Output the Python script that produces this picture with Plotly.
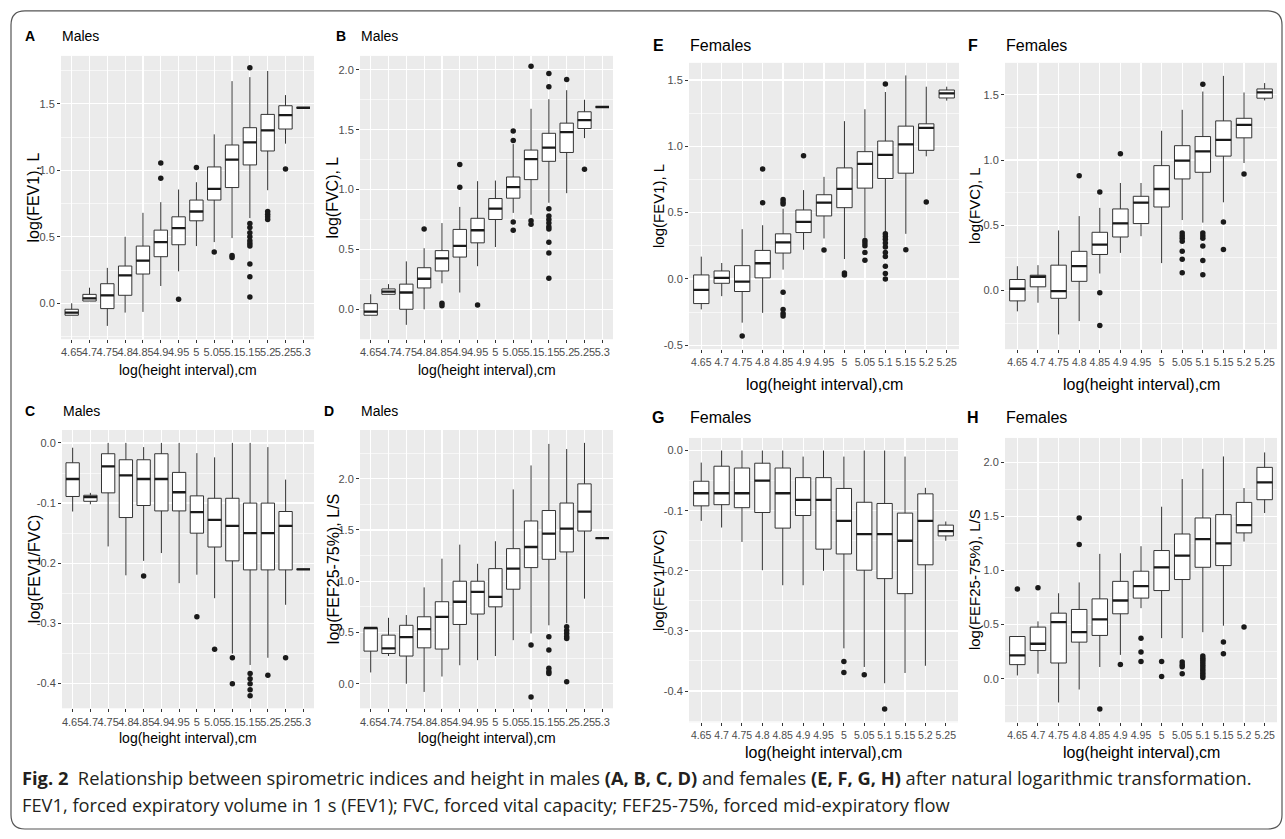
import plotly.graph_objects as go

W, H = 1285, 839

# ---------------- categories ----------------
MALE_CATS = ["4.65", "4.7", "4.75", "4.8", "4.85", "4.9", "4.95", "5", "5.05", "5.1", "5.15", "5.2", "5.25", "5.3"]
FEMALE_CATS = ["4.65", "4.7", "4.75", "4.8", "4.85", "4.9", "4.95", "5", "5.05", "5.1", "5.15", "5.2", "5.25"]

# ---------------- Panel A: males, log(FEV1) ----------------
A_LO = [-0.09, 0.017, -0.17, -0.07, -0.065, 0.13, 0.24, 0.43, 0.46, 0.49, 0.64, 0.85, 1.20, 1.47]
A_Q1 = [-0.09, 0.017, -0.04, 0.06, 0.22, 0.35, 0.44, 0.62, 0.776, 0.87, 1.04, 1.145, 1.31, 1.47]
A_MED = [-0.07, 0.037, 0.06, 0.21, 0.32, 0.46, 0.565, 0.69, 0.86, 1.08, 1.21, 1.30, 1.415, 1.47]
A_Q3 = [-0.045, 0.067, 0.147, 0.28, 0.43, 0.55, 0.65, 0.776, 1.025, 1.19, 1.32, 1.42, 1.485, 1.47]
A_HI = [0.0, 0.117, 0.266, 0.50, 0.68, 0.76, 0.855, 0.91, 1.27, 1.67, 1.70, 1.746, 1.565, 1.47]
A_OUT_CAT = ["4.9", "4.9", "4.95", "5", "5.05", "5.1", "5.1",
             "5.15", "5.15", "5.15", "5.15", "5.15", "5.15", "5.15", "5.15", "5.15", "5.15", "5.15",
             "5.2", "5.2", "5.2", "5.2", "5.25"]
A_OUT_VAL = [1.055, 0.94, 0.03, 1.02, 0.385, 0.36, 0.345,
             1.77, 0.60, 0.57, 0.53, 0.50, 0.47, 0.45, 0.43, 0.296, 0.2, 0.047,
             0.69, 0.67, 0.65, 0.63, 1.01]

# ---------------- Panel B: males, log(FVC) ----------------
B_LO = [-0.05, 0.125, -0.13, 0.0, 0.217, 0.14, 0.36, 0.52, 0.805, 0.79, 0.89, 0.97, 1.43, 1.69]
B_Q1 = [-0.05, 0.125, 0.0, 0.178, 0.32, 0.436, 0.555, 0.75, 0.928, 1.083, 1.236, 1.31, 1.51, 1.69]
B_MED = [-0.02, 0.147, 0.14, 0.255, 0.425, 0.53, 0.66, 0.84, 1.02, 1.255, 1.35, 1.48, 1.58, 1.69]
B_Q3 = [0.047, 0.17, 0.21, 0.347, 0.49, 0.667, 0.76, 0.925, 1.105, 1.33, 1.47, 1.555, 1.65, 1.69]
B_HI = [0.125, 0.21, 0.40, 0.51, 0.72, 0.855, 1.07, 1.075, 1.38, 1.675, 1.755, 1.83, 1.75, 1.69]
B_OUT_CAT = ["4.8", "4.85", "4.85", "4.9", "4.9", "4.95",
             "5.05", "5.05", "5.05", "5.05", "5.1", "5.1", "5.1",
             "5.15", "5.15", "5.15", "5.15", "5.15", "5.15", "5.15", "5.15", "5.15", "5.15", "5.15",
             "5.2", "5.25"]
B_OUT_VAL = [0.67, 0.05, 0.03, 1.21, 1.02, 0.035,
             1.49, 1.41, 0.73, 0.66, 2.03, 0.74, 0.71,
             1.97, 1.86, 0.84, 0.78, 0.75, 0.72, 0.69, 0.67, 0.56, 0.47, 0.26,
             1.92, 1.17]

# ---------------- Panel C: males, log(FEV1/FVC) ----------------
C_LO = [-0.114, -0.102, -0.172, -0.22, -0.196, -0.183, -0.233, -0.219, -0.258, -0.35, -0.369, -0.357, -0.269, -0.21]
C_Q1 = [-0.089, -0.097, -0.083, -0.124, -0.104, -0.113, -0.113, -0.15, -0.173, -0.196, -0.211, -0.211, -0.211, -0.21]
C_MED = [-0.06, -0.09, -0.039, -0.054, -0.06, -0.06, -0.082, -0.115, -0.128, -0.138, -0.15, -0.15, -0.138, -0.21]
C_Q3 = [-0.033, -0.087, -0.018, -0.028, -0.028, -0.018, -0.049, -0.088, -0.092, -0.092, -0.1, -0.1, -0.114, -0.21]
C_HI = [-0.008, -0.083, 0.0, 0.0, -0.007, 0.0, 0.0, -0.017, -0.024, 0.0, 0.0, -0.007, -0.061, -0.21]
C_OUT_CAT = ["4.85", "5", "5.05", "5.1", "5.1", "5.15", "5.15", "5.15", "5.15", "5.15", "5.2", "5.25"]
C_OUT_VAL = [-0.221, -0.289, -0.343, -0.357, -0.40, -0.383, -0.392, -0.40, -0.41, -0.42, -0.386, -0.357]

# ---------------- Panel D: males, log(FEF25-75%) ----------------
D_LO = [0.11, 0.27, 0.0, -0.08, 0.07, 0.18, 0.23, 0.27, 0.425, 0.49, 0.57, 0.59, 0.83, 1.42]
D_Q1 = [0.318, 0.295, 0.27, 0.35, 0.338, 0.578, 0.68, 0.75, 0.922, 1.133, 1.214, 1.286, 1.49, 1.42]
D_MED = [0.545, 0.344, 0.455, 0.532, 0.653, 0.80, 0.896, 0.847, 1.123, 1.334, 1.464, 1.513, 1.68, 1.42]
D_Q3 = [0.545, 0.474, 0.57, 0.653, 0.80, 1.0, 1.0, 1.123, 1.318, 1.588, 1.69, 1.763, 1.95, 1.42]
D_HI = [0.545, 0.643, 0.67, 0.94, 1.22, 1.357, 1.17, 1.39, 1.896, 2.13, 2.34, 2.29, 2.35, 1.42]
D_OUT_CAT = ["5.1", "5.1", "5.15", "5.15", "5.15", "5.15", "5.15",
             "5.2", "5.2", "5.2", "5.2", "5.2", "5.2"]
D_OUT_VAL = [0.377, -0.13, 0.458, 0.328, 0.15, 0.12, 0.10,
             0.555, 0.52, 0.49, 0.46, 0.44, 0.02]

# ---------------- Panel E: females, log(FEV1) ----------------
E_LO = [-0.23, -0.13, -0.33, -0.256, 0.07, 0.22, 0.305, 0.15, 0.31, 0.35, 0.34, 0.925, 1.345]
E_Q1 = [-0.186, -0.033, -0.095, 0.008, 0.195, 0.35, 0.475, 0.5375, 0.685, 0.7575, 0.7975, 0.97, 1.365]
E_MED = [-0.083, 0.008, -0.02, 0.118, 0.275, 0.43, 0.575, 0.68, 0.8675, 0.935, 1.015, 1.14, 1.40]
E_Q3 = [0.03, 0.06, 0.1, 0.215, 0.34, 0.52, 0.635, 0.8375, 0.96, 1.04, 1.1525, 1.17, 1.425]
E_HI = [0.168, 0.12, 0.375, 0.405, 0.53, 0.67, 0.77, 1.19, 1.28, 1.41, 1.535, 1.45, 1.45]
E_OUT_CAT = ["4.75", "4.8", "4.8", "4.85", "4.85", "4.85", "4.85", "4.85", "4.85", "4.85",
             "4.9", "4.95", "5", "5",
             "5.05", "5.05", "5.05", "5.05", "5.05",
             "5.1", "5.1", "5.1", "5.1", "5.1", "5.1", "5.1", "5.1", "5.1", "5.1", "5.1",
             "5.15", "5.2"]
E_OUT_VAL = [-0.43, 0.83, 0.575, 0.60, 0.58, 0.565, -0.10, -0.23, -0.26, -0.28,
             0.93, 0.218, 0.045, 0.03,
             0.29, 0.27, 0.25, 0.20, 0.14,
             1.47, 0.34, 0.32, 0.30, 0.27, 0.24, 0.20, 0.17, 0.095, 0.04, 0.0,
             0.22, 0.58]

# ---------------- Panel F: females, log(FVC) ----------------
F_LO = [-0.16, -0.094, -0.337, -0.235, 0.13, 0.288, 0.416, 0.21, 0.54, 0.52, 0.676, 0.977, 1.457]
F_Q1 = [-0.08, 0.028, -0.06, 0.07, 0.276, 0.41, 0.513, 0.64, 0.855, 0.906, 1.03, 1.17, 1.474]
F_MED = [0.013, 0.105, -0.005, 0.186, 0.352, 0.515, 0.673, 0.778, 0.995, 1.066, 1.155, 1.27, 1.518]
F_Q3 = [0.084, 0.117, 0.194, 0.30, 0.446, 0.625, 0.722, 0.957, 1.11, 1.18, 1.30, 1.32, 1.545]
F_HI = [0.186, 0.194, 0.46, 0.57, 0.633, 0.824, 0.824, 1.224, 1.385, 1.525, 1.645, 1.518, 1.59]
F_OUT_CAT = ["4.8", "4.85", "4.85", "4.85", "4.9",
             "5.05", "5.05", "5.05", "5.05", "5.05", "5.05", "5.05",
             "5.1", "5.1", "5.1", "5.1", "5.1", "5.1", "5.1",
             "5.15", "5.15", "5.2"]
F_OUT_VAL = [0.88, 0.755, -0.018, -0.268, 1.048,
             0.44, 0.42, 0.40, 0.378, 0.30, 0.24, 0.135,
             1.58, 0.44, 0.42, 0.40, 0.34, 0.23, 0.12,
             0.525, 0.314, 0.893]

# ---------------- Panel G: females, log(FEV1/FVC) ----------------
G_LO = [-0.117, -0.128, -0.152, -0.199, -0.224, -0.224, -0.2, -0.329, -0.36, -0.387, -0.37, -0.358, -0.15]
G_Q1 = [-0.092, -0.09, -0.095, -0.103, -0.129, -0.108, -0.164, -0.172, -0.199, -0.213, -0.238, -0.19, -0.142]
G_MED = [-0.071, -0.071, -0.071, -0.05, -0.071, -0.082, -0.082, -0.117, -0.139, -0.139, -0.15, -0.117, -0.134]
G_Q3 = [-0.051, -0.026, -0.029, -0.021, -0.029, -0.045, -0.045, -0.063, -0.086, -0.088, -0.104, -0.072, -0.124]
G_HI = [-0.02, 0.0, 0.0, 0.0, 0.0, -0.01, 0.0, -0.01, 0.0, 0.0, -0.01, -0.062, -0.118]
G_OUT_CAT = ["5", "5", "5.05", "5.1"]
G_OUT_VAL = [-0.351, -0.369, -0.373, -0.43]

# ---------------- Panel H: females, log(FEF25-75%) ----------------
H_LO = [0.03, 0.046, -0.22, -0.1, 0.108, 0.22, 0.652, 0.375, 0.375, 0.43, 0.49, 1.268, 1.532]
H_Q1 = [0.13, 0.26, 0.145, 0.338, 0.40, 0.60, 0.745, 0.815, 0.917, 1.03, 1.046, 1.348, 1.655]
H_MED = [0.215, 0.323, 0.523, 0.43, 0.548, 0.723, 0.855, 1.03, 1.138, 1.29, 1.252, 1.42, 1.815]
H_Q3 = [0.39, 0.477, 0.606, 0.64, 0.738, 0.90, 0.994, 1.185, 1.338, 1.486, 1.517, 1.63, 1.954]
H_HI = [0.39, 0.53, 0.79, 0.89, 1.154, 1.16, 1.225, 1.59, 1.846, 1.94, 2.055, 1.763, 2.092]
H_OUT_CAT = ["4.65", "4.7", "4.8", "4.8", "4.85", "4.9", "4.95", "4.95", "4.95", "5", "5",
             "5.05", "5.05", "5.05", "5.05",
             "5.1", "5.1", "5.1", "5.1", "5.1", "5.1", "5.1", "5.1", "5.1", "5.1", "5.1",
             "5.15", "5.15", "5.2"]
H_OUT_VAL = [0.83, 0.84, 1.486, 1.24, -0.28, 0.132, 0.375, 0.246, 0.16, 0.16, 0.02,
             0.154, 0.13, 0.11, 0.046,
             0.21, 0.19, 0.17, 0.15, 0.13, 0.11, 0.09, 0.07, 0.05, 0.03, 0.01,
             0.34, 0.23, 0.477]

# ---------------- tick labels ----------------
TICKS_0_15 = [0.0, 0.5, 1.0, 1.5]
TICKTEXT_0_15 = ["0.0", "0.5", "1.0", "1.5"]
TICKS_0_20 = [0.0, 0.5, 1.0, 1.5, 2.0]
TICKTEXT_0_20 = ["0.0", "0.5", "1.0", "1.5", "2.0"]
TICKS_RATIO = [-0.4, -0.3, -0.2, -0.1, 0.0]
TICKTEXT_RATIO = ["-0.4", "-0.3", "-0.2", "-0.1", "0.0"]
TICKS_E = [-0.5, 0.0, 0.5, 1.0, 1.5]
TICKTEXT_E = ["-0.5", "0.0", "0.5", "1.0", "1.5"]

X_TITLE = "log(height interval),cm"
CAPTION_1 = ("<b>Fig. 2</b>  Relationship between spirometric indices and height in males "
             "<b>(A, B, C, D)</b> and females <b>(E, F, G, H)</b> after natural logarithmic transformation.")
CAPTION_2 = ("FEV1, forced expiratory volume in 1 s (FEV1); FVC, forced vital capacity; "
             "FEF25-75%, forced mid-expiratory flow")

# ---------------- styling ----------------
NARROW = "Liberation Sans Narrow, Arial Narrow, Liberation Sans, Arial, sans-serif"
SANS = "Liberation Sans, Arial, sans-serif"
TICK_COL = "#4D4D4D"


def fx(p):
    return p / W


def fy(p):
    return 1 - p / H


PANELS = [
    dict(letter="A", group="Males", cats=MALE_CATS, data=(A_LO, A_Q1, A_MED, A_Q3, A_HI, A_OUT_CAT, A_OUT_VAL),
         ytitle="log(FEV1), L", ticks=TICKS_0_15, ticktext=TICKTEXT_0_15, yr=[-0.27, 1.86],
         box=(61, 314, 56, 340), male=True, ytx=34, ltx=30, lty=36, xty=371),
    dict(letter="B", group="Males", cats=MALE_CATS, data=(B_LO, B_Q1, B_MED, B_Q3, B_HI, B_OUT_CAT, B_OUT_VAL),
         ytitle="log(FVC), L", ticks=TICKS_0_20, ticktext=TICKTEXT_0_20, yr=[-0.25, 2.117],
         box=(360, 613, 56, 340), male=True, ytx=333, ltx=341, lty=36, xty=371),
    dict(letter="C", group="Males", cats=MALE_CATS, data=(C_LO, C_Q1, C_MED, C_Q3, C_HI, C_OUT_CAT, C_OUT_VAL),
         ytitle="log(FEV1/FVC)", ticks=TICKS_RATIO, ticktext=TICKTEXT_RATIO, yr=[-0.441, 0.0215],
         box=(62, 314, 431, 710), male=True, ytx=34, ltx=30, lty=412, xty=740),
    dict(letter="D", group="Males", cats=MALE_CATS, data=(D_LO, D_Q1, D_MED, D_Q3, D_HI, D_OUT_CAT, D_OUT_VAL),
         ytitle="log(FEF25-75%), L/S", ticks=TICKS_0_20, ticktext=TICKTEXT_0_20, yr=[-0.24, 2.476],
         box=(360, 613, 431, 710), male=True, ytx=333, ltx=329, lty=412, xty=740),
    dict(letter="E", group="Females", cats=FEMALE_CATS, data=(E_LO, E_Q1, E_MED, E_Q3, E_HI, E_OUT_CAT, E_OUT_VAL),
         ytitle="log(FEV1), L", ticks=TICKS_E, ticktext=TICKTEXT_E, yr=[-0.53, 1.63],
         box=(689, 959, 63, 350), male=False, ytx=658, ltx=658, lty=46, xty=385),
    dict(letter="F", group="Females", cats=FEMALE_CATS, data=(F_LO, F_Q1, F_MED, F_Q3, F_HI, F_OUT_CAT, F_OUT_VAL),
         ytitle="log(FVC), L", ticks=TICKS_0_15, ticktext=TICKTEXT_0_15, yr=[-0.45, 1.745],
         box=(1005, 1277, 63, 350), male=False, ytx=974, ltx=973, lty=46, xty=385),
    dict(letter="G", group="Females", cats=FEMALE_CATS, data=(G_LO, G_Q1, G_MED, G_Q3, G_HI, G_OUT_CAT, G_OUT_VAL),
         ytitle="log(FEV1/FVC)", ticks=TICKS_RATIO, ticktext=TICKTEXT_RATIO, yr=[-0.452, 0.021],
         box=(689, 958, 439, 724), male=False, ytx=658, ltx=658, lty=418, xty=754),
    dict(letter="H", group="Females", cats=FEMALE_CATS, data=(H_LO, H_Q1, H_MED, H_Q3, H_HI, H_OUT_CAT, H_OUT_VAL),
         ytitle="log(FEF25-75%), L/S", ticks=TICKS_0_20, ticktext=TICKTEXT_0_20, yr=[-0.403, 2.226],
         box=(1005, 1277, 439, 724), male=False, ytx=974, ltx=973, lty=418, xty=754),
]

fig = go.Figure()
annotations = []
layout = {}

BOX_W = 0.75
for i, p in enumerate(PANELS, start=1):
    xa = "x" if i == 1 else f"x{i}"
    ya = "y" if i == 1 else f"y{i}"
    xkey = "xaxis" if i == 1 else f"xaxis{i}"
    ykey = "yaxis" if i == 1 else f"yaxis{i}"
    lo, q1, med, q3, hi, ocat, oval = p["data"]
    cats = p["cats"]
    pos = list(range(1, len(cats) + 1))
    index_of = {c: k for c, k in zip(cats, pos)}

    fig.add_trace(go.Box(
        x=pos, q1=q1, median=med, q3=q3, lowerfence=lo, upperfence=hi,
        width=BOX_W, whiskerwidth=0, fillcolor="white",
        line=dict(color="#333333", width=1), boxpoints=False,
        hoverinfo="skip", showlegend=False, xaxis=xa, yaxis=ya))
    mx, my = [], []
    for k, m in zip(pos, med):
        mx += [k - BOX_W / 2, k + BOX_W / 2, None]
        my += [m, m, None]
    fig.add_trace(go.Scatter(x=mx, y=my, mode="lines", line=dict(color="#1a1a1a", width=2.3),
                             hoverinfo="skip", showlegend=False, xaxis=xa, yaxis=ya))
    fig.add_trace(go.Scatter(x=[index_of[c] for c in ocat], y=oval, mode="markers",
                             marker=dict(color="#1a1a1a", size=5.5, line=dict(width=0)),
                             hoverinfo="skip", showlegend=False, xaxis=xa, yaxis=ya))

    x0, x1, y0, y1 = p["box"]
    male = p["male"]
    tick_font = dict(family=NARROW, size=11 if male else 10.5, color=TICK_COL)
    ticks = p["ticks"]
    step = ticks[1] - ticks[0]
    minor_vals = [ticks[0] - step / 2] + [(a + b) / 2 for a, b in zip(ticks[:-1], ticks[1:])] + [ticks[-1] + step / 2]

    layout[xkey] = dict(
        domain=[fx(x0), fx(x1)], anchor=ya, range=[0.4, len(cats) + 0.6],
        tickmode="array", tickvals=pos, ticktext=cats, tickangle=0,
        showgrid=True, gridcolor="white", gridwidth=1.2, zeroline=False, showline=False,
        ticks="outside", ticklen=3, tickwidth=1, tickcolor="#333333",
        tickfont=tick_font, fixedrange=True)
    layout[ykey] = dict(
        domain=[fy(y1), fy(y0)], anchor=xa, range=p["yr"],
        tickmode="array", tickvals=ticks, ticktext=p["ticktext"],
        showgrid=True, gridcolor="white", gridwidth=1.2, zeroline=False, showline=False,
        ticks="outside", ticklen=3, tickwidth=1, tickcolor="#333333",
        tickfont=dict(family=NARROW, size=11, color=TICK_COL), fixedrange=True,
        minor=dict(tickmode="array", tickvals=minor_vals, showgrid=True,
                   gridcolor="white", gridwidth=0.6, ticks=""))

    # panel letter and group title
    annotations.append(dict(text=f"<b>{p['letter']}</b>", x=fx(p["ltx"]), y=fy(p["lty"]),
                            xref="paper", yref="paper", xanchor="center", yanchor="middle",
                            showarrow=False, font=dict(family=SANS, size=14 if male else 16, color="black")))
    annotations.append(dict(text=p["group"], x=fx(x0 - 1), y=fy(p["lty"]),
                            xref="paper", yref="paper", xanchor="left", yanchor="middle",
                            showarrow=False, font=dict(family=NARROW, size=14 if male else 16, color="black")))
    # axis titles
    annotations.append(dict(text=X_TITLE, x=fx((x0 + x1) / 2), y=fy(p["xty"]),
                            xref="paper", yref="paper", xanchor="center", yanchor="middle",
                            showarrow=False,
                            font=dict(family=NARROW if male else SANS, size=14 if male else 16, color="black")))
    annotations.append(dict(text=p["ytitle"], x=fx(p["ytx"]), y=fy((y0 + y1) / 2),
                            xref="paper", yref="paper", xanchor="center", yanchor="middle",
                            textangle=-90, showarrow=False,
                            font=dict(family=SANS, size=16 if male else 15, color="black")))

# caption
CAP_FONT = dict(family="Open Sans, Noto Sans, sans-serif", size=18.3, color="#231F20")
annotations.append(dict(text=CAPTION_1, x=fx(20), y=fy(779), xref="paper", yref="paper",
                        xanchor="left", yanchor="middle", showarrow=False, font=CAP_FONT))
annotations.append(dict(text=CAPTION_2, x=fx(20), y=fy(806), xref="paper", yref="paper",
                        xanchor="left", yanchor="middle", showarrow=False, font=CAP_FONT))

# rounded outer frame
bx0, by0, bx1, by1, r = 11, 11, 1282, 831, 14
path = (f"M {fx(bx0 + r)},{fy(by0)} L {fx(bx1 - r)},{fy(by0)} Q {fx(bx1)},{fy(by0)} {fx(bx1)},{fy(by0 + r)} "
        f"L {fx(bx1)},{fy(by1 - r)} Q {fx(bx1)},{fy(by1)} {fx(bx1 - r)},{fy(by1)} "
        f"L {fx(bx0 + r)},{fy(by1)} Q {fx(bx0)},{fy(by1)} {fx(bx0)},{fy(by1 - r)} "
        f"L {fx(bx0)},{fy(by0 + r)} Q {fx(bx0)},{fy(by0)} {fx(bx0 + r)},{fy(by0)} Z")

fig.update_layout(
    width=W, height=H, autosize=False,
    margin=dict(l=0, r=0, t=0, b=0),
    paper_bgcolor="white", plot_bgcolor="#EBEBEB",
    showlegend=False,
    annotations=annotations,
    shapes=[dict(type="path", path=path, xref="paper", yref="paper",
                 line=dict(color="#555555", width=1.2), fillcolor="rgba(0,0,0,0)", layer="above")],
    **layout,
)

fig.write_html("out.html", include_plotlyjs=True, full_html=True,
               config={"displayModeBar": False, "staticPlot": True},
               post_script="document.body.style.margin='0';")
